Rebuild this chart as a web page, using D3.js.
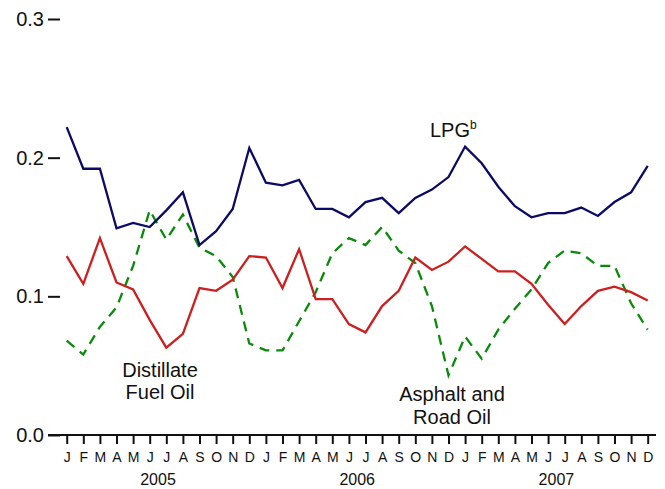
<!DOCTYPE html>
<html>
<head>
<meta charset="utf-8">
<script src="https://cdn.jsdelivr.net/npm/d3@7"></script>
<style>
  body { margin: 0; background: #fff; }
  svg text { font-family: "Liberation Sans", Arial, sans-serif; fill: #111; }
</style>
</head>
<body>
<div id="chart"></div>
<script>
const width = 665;
const height = 489;

const monthLabels = ['J','F','M','A','M','J','J','A','S','O','N','D'];
const years = ['2005', '2006', '2007'];
const yTicks = [0, 0.1, 0.2, 0.3];

// monthly values, Jan 2005 .. Dec 2007
const lpg = [0.222, 0.192, 0.192, 0.149, 0.153, 0.150, 0.162, 0.175, 0.137, 0.147, 0.163, 0.207,
  0.182, 0.180, 0.184, 0.163, 0.163, 0.157, 0.168, 0.171, 0.160, 0.171, 0.177, 0.186,
  0.208, 0.196, 0.179, 0.165, 0.157, 0.160, 0.160, 0.164, 0.158, 0.168, 0.175, 0.194];
const distillate = [0.129, 0.109, 0.142, 0.110, 0.105, 0.083, 0.063, 0.073, 0.106, 0.104, 0.112, 0.129,
  0.128, 0.106, 0.134, 0.098, 0.098, 0.080, 0.074, 0.093, 0.104, 0.128, 0.119, 0.125,
  0.136, 0.127, 0.118, 0.118, 0.109, 0.094, 0.080, 0.093, 0.104, 0.107, 0.103, 0.097];
const asphalt = [0.068, 0.058, 0.078, 0.092, 0.122, 0.162, 0.141, 0.159, 0.135, 0.129, 0.114, 0.066,
  0.061, 0.061, 0.082, 0.103, 0.131, 0.142, 0.137, 0.150, 0.133, 0.124, 0.093, 0.043,
  0.071, 0.055, 0.076, 0.091, 0.105, 0.124, 0.133, 0.131, 0.122, 0.122, 0.095, 0.076];

const months = d3.range(36);

const svg = d3.select('#chart').append('svg')
  .attr('width', width).attr('height', height);

const x = d3.scaleLinear().domain([0, 35]).range([66.7, 647.7]);
const y = d3.scaleLinear().domain([0, 0.3]).range([435, 19]);

// y axis: ticks only, labels to the left
const yAxis = svg.append('g')
  .attr('transform', 'translate(60,0)')
  .call(d3.axisLeft(y).tickValues(yTicks).tickFormat(d3.format('.1f')).tickSize(12).tickPadding(4));
yAxis.select('.domain').remove();
yAxis.selectAll('line').attr('stroke', '#111').attr('stroke-width', 2);
yAxis.selectAll('text').attr('font-size', 20).attr('fill', '#111')
  .attr('font-family', '"Liberation Sans", Arial, sans-serif');

// x axis
const xAxis = svg.append('g')
  .attr('transform', 'translate(0,435)')
  .call(d3.axisBottom(x).tickValues(months).tickFormat(i => monthLabels[i % 12]).tickSize(9).tickPadding(8));
xAxis.select('.domain').remove();
xAxis.selectAll('line').attr('stroke', '#111').attr('stroke-width', 2);
xAxis.selectAll('text').attr('font-size', 14).attr('fill', '#111')
  .attr('font-family', '"Liberation Sans", Arial, sans-serif');

svg.append('line')
  .attr('x1', 48).attr('x2', 656)
  .attr('y1', 435).attr('y2', 435)
  .attr('stroke', '#111').attr('stroke-width', 2);

svg.append('g').selectAll('text')
  .data(years)
  .join('text')
  .attr('x', (d, i) => x(i * 12 + 5.5))
  .attr('y', 485)
  .attr('text-anchor', 'middle')
  .attr('font-size', 16)
  .text(d => d);

const line = d3.line()
  .x((d, i) => x(i))
  .y(d => y(d));

svg.append('path').datum(asphalt)
  .attr('d', line).attr('fill', 'none')
  .attr('stroke', '#0a8a0a').attr('stroke-width', 2.3)
  .attr('stroke-dasharray', '10,7');

svg.append('path').datum(distillate)
  .attr('d', line).attr('fill', 'none')
  .attr('stroke', '#cc1f1f').attr('stroke-width', 2.3);

svg.append('path').datum(lpg)
  .attr('d', line).attr('fill', 'none')
  .attr('stroke', '#0b0b66').attr('stroke-width', 2.3);

// annotations
const lpgLabel = svg.append('text')
  .attr('x', 430).attr('y', 137)
  .attr('font-size', 20);
lpgLabel.append('tspan').text('LPG');
lpgLabel.append('tspan').attr('font-size', 12).attr('dy', -8).text('b');

const distLabel = svg.append('text')
  .attr('text-anchor', 'middle').attr('font-size', 20);
distLabel.append('tspan').attr('x', 160).attr('y', 377).text('Distillate');
distLabel.append('tspan').attr('x', 160).attr('y', 399).text('Fuel Oil');

const asphLabel = svg.append('text')
  .attr('text-anchor', 'middle').attr('font-size', 20);
asphLabel.append('tspan').attr('x', 452).attr('y', 401).text('Asphalt and');
asphLabel.append('tspan').attr('x', 452).attr('y', 424).text('Road Oil');
</script>
</body>
</html>
